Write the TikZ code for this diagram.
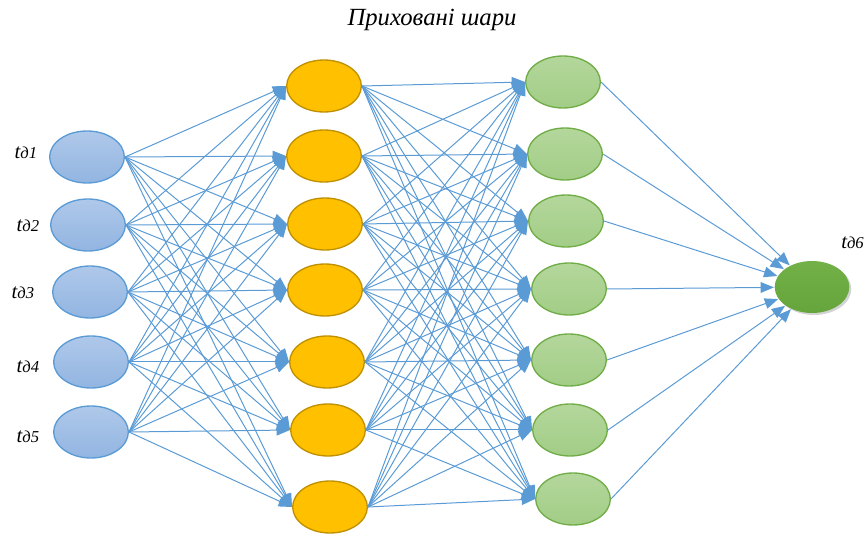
\documentclass[tikz,border=0pt]{standalone}
\usepackage{fontspec}
\setmainfont{Liberation Serif}
\usetikzlibrary{shapes.geometric,arrows.meta,shadows}
\definecolor{edgeblue}{HTML}{5B9BD5}
\definecolor{inborder}{HTML}{5B9BD5}
\definecolor{intop}{HTML}{AFC8EA}
\definecolor{inbot}{HTML}{92B5E1}
\definecolor{gold}{HTML}{FFC000}
\definecolor{goldborder}{HTML}{BF9000}
\definecolor{greenborder}{HTML}{70AD47}
\definecolor{gtop}{HTML}{B4D79C}
\definecolor{gbot}{HTML}{A2CD86}
\definecolor{otop}{HTML}{72B048}
\definecolor{obot}{HTML}{65A53B}
\begin{document}
\begin{tikzpicture}[x=0.75pt,y=-0.75pt,
  neuron/.style={ellipse, minimum width=56pt, minimum height=39pt, inner sep=0pt, line width=1pt},
  inp/.style={neuron, draw=inborder, top color=intop, bottom color=inbot},
  hidA/.style={neuron, draw=goldborder, fill=gold},
  hidB/.style={neuron, draw=greenborder, top color=gtop, bottom color=gbot},
  outn/.style={neuron, top color=otop, bottom color=obot,
     drop shadow={opacity=0.35, shadow xshift=1.5pt, shadow yshift=-1.5pt}},
  conn/.style={draw=edgeblue, line width=0.75pt, -{Triangle[length=10pt,width=8pt]}},
  lbl/.style={inner sep=0pt, font=\itshape}
]
\useasboundingbox (0,0) rectangle (864,534);
% title
\node[inner sep=0pt, font=\itshape\fontsize{18.5}{20}\selectfont] (title) at (432,20) {Приховані шари};
% input layer
\node[inp] (i1) at (87,157) {};
\node[inp] (i2) at (88,225) {};
\node[inp] (i3) at (90,292) {};
\node[inp] (i4) at (91,362) {};
\node[inp] (i5) at (91,432) {};
% hidden layer 1
\node[hidA] (h1) at (324,86) {};
\node[hidA] (h2) at (324,156) {};
\node[hidA] (h3) at (325,224) {};
\node[hidA] (h4) at (325,290) {};
\node[hidA] (h5) at (327,362) {};
\node[hidA] (h6) at (328,430) {};
\node[hidA] (h7) at (330,507) {};
% hidden layer 2
\node[hidB] (g1) at (563,82) {};
\node[hidB] (g2) at (565,154) {};
\node[hidB] (g3) at (566,221) {};
\node[hidB] (g4) at (569,289) {};
\node[hidB] (g5) at (569,360) {};
\node[hidB] (g6) at (570,430) {};
\node[hidB] (g7) at (573,499) {};
% output
\node[outn] (o) at (812,287) {};
% labels
\node[lbl] (l1) at (26,153) {{\fontsize{15.5}{17}\selectfont t}{\fontsize{12.5}{14}\selectfont д1}};
\node[lbl] (l2) at (28,226) {{\fontsize{15.5}{17}\selectfont t}{\fontsize{12.5}{14}\selectfont д2}};
\node[lbl] (l3) at (23,293) {{\fontsize{15.5}{17}\selectfont t}{\fontsize{12.5}{14}\selectfont д3}};
\node[lbl] (l4) at (28,367) {{\fontsize{15.5}{17}\selectfont t}{\fontsize{12.5}{14}\selectfont д4}};
\node[lbl] (l5) at (28,437) {{\fontsize{15.5}{17}\selectfont t}{\fontsize{12.5}{14}\selectfont д5}};
\node[lbl, anchor=west] (l6) at (841,243) {{\fontsize{15.5}{17}\selectfont t}{\fontsize{12.5}{14}\selectfont д6}};
% connections
\foreach \a in {1,...,5}{
  \foreach \b in {1,...,7}{
    \draw[conn] (i\a.east) -- (h\b.west);
  }
}
\foreach \a in {1,...,7}{
  \foreach \b in {1,...,7}{
    \draw[conn] (h\a.east) -- (g\b.west);
  }
}
\foreach \a in {1,...,7}{
  \draw[conn] (g\a.east) -- (o);
}
\end{tikzpicture}
\end{document}
